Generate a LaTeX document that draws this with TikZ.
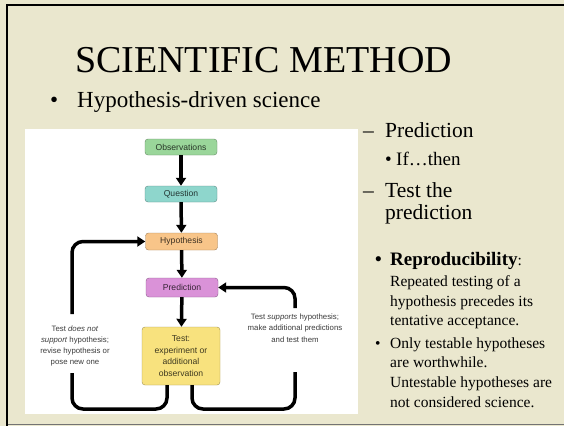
\documentclass[tikz,border=0pt]{standalone}
\usepackage{fontspec}
\setmainfont{Liberation Serif}
\setsansfont{Liberation Sans}
\usepackage{tikz}
\usetikzlibrary{arrows.meta,positioning}
\definecolor{slidebg}{HTML}{EAE7CE}
\definecolor{obscol}{HTML}{9AD69A}
\definecolor{questcol}{HTML}{8ED6CC}
\definecolor{hypcol}{HTML}{F8C589}
\definecolor{predcol}{HTML}{DA92D8}
\definecolor{testcol}{HTML}{F8E27E}
\definecolor{note}{HTML}{3C3C3C}

\begin{document}
\begin{tikzpicture}[x=1pt,y=-1pt,
  box/.style={draw=#1!65!black,fill=#1,rounded corners=3pt,minimum width=72pt,minimum height=17pt,inner sep=1pt,
     font=\sffamily\fontsize{8.6}{11.8}\selectfont,text=#1!25!black,align=center},
  flow/.style={line width=3.5pt,-{Triangle[length=8pt,width=10pt]}},
  loopline/.style={line width=3.5pt,rounded corners=11pt},
  side/.style={font=\sffamily\fontsize{7.8}{11.3}\selectfont,text=note,align=center},
  txt/.style={anchor=base west,inner sep=0pt,align=left,font=\fontsize{#1}{#1}\selectfont}]
\useasboundingbox (0,0) rectangle (564,426);
\fill[slidebg] (0,0) rectangle (564,426);
\draw[line width=2pt] (564,5) -- (7,5) -- (7,426);
\draw[line width=1.5pt,black!55] (8,424.5) -- (564,424.5);
\fill[white] (25,129) rectangle (358,414);
% slide text (base of a multi-line node = its last line)
\node[txt=38] (title) at (75,72) {SCIENTIFIC METHOD};
\node[txt=23] (b1) at (50,107) {•};
\node[txt=23] (hds) at (77,107) {Hypothesis-driven science};
\node[txt=21.5] (d1) at (363,137) {–};
\node[txt=21.5] (predtxt) at (385,137) {Prediction};
\node[txt=19] (b2) at (385,165) {•};
\node[txt=19] (ifthen) at (396,165) {If…then};
\node[txt=21.5] (d2) at (363,197) {–};
\node[txt=21.5,font=\fontsize{21.5}{22}\selectfont] (testtxt) at (385,219) {Test the\\prediction};
\node[txt=19] (b3) at (375,265) {\textbf{•}};
\node[txt=19] (repro) at (390,265) {\textbf{Reproducibility}\fontsize{15.5}{19}\selectfont:};
\node[txt=15.5,font=\fontsize{15.5}{19.5}\selectfont] (reptxt) at (390,325.7) {Repeated testing of a\\hypothesis precedes its\\tentative acceptance.};
\node[txt=15.5] (b4) at (375,348) {•};
\node[txt=15.5,font=\fontsize{15.5}{19.7}\selectfont] (onlytxt) at (390,407.1) {Only testable hypotheses\\are worthwhile.\\Untestable hypotheses are\\not considered science.};
% flow chart
\node[box=obscol,minimum height=16pt] (obs) at (181,147) {Observations};
\node[box=questcol,minimum height=16pt] (quest) at (181,194) {Question};
\node[box=hypcol] (hyp) at (181.5,241.5) {Hypothesis};
\node[box=predcol,minimum height=19pt] (pred) at (182,287.5) {Prediction};
\node[box=testcol,minimum width=78pt,minimum height=58pt] (test) at (181,356) {Test:\\experiment or\\additional\\observation};
\draw[flow] (obs) -- (quest);
\draw[flow] (quest) -- (hyp);
\draw[flow] (hyp) -- (pred);
\draw[flow] (pred) -- (test);
\coordinate (lbot) at (72,409);
\coordinate (lgap) at (72,373);
\coordinate (ltop) at (72,314);
\coordinate (rbot) at (295,409);
\coordinate (rgap) at (295,372);
\coordinate (rtop) at (295,308);
\draw[loopline] ([xshift=-14pt]test.south) |- (lbot) -- (lgap);
\draw[loopline,flow] (ltop) |- (hyp.west);
\draw[loopline] ([xshift=11pt]test.south) |- (rbot) -- (rgap);
\draw[loopline,flow] (rtop) |- (pred.east);
\node[side] (nosup) at (75,346) {Test \textit{does not}\\\textit{support} hypothesis;\\revise hypothesis or\\pose new one};
\node[side] (sup) at (295,328) {Test \textit{supports} hypothesis;\\make additional predictions\\and test them};
\end{tikzpicture}
\end{document}
